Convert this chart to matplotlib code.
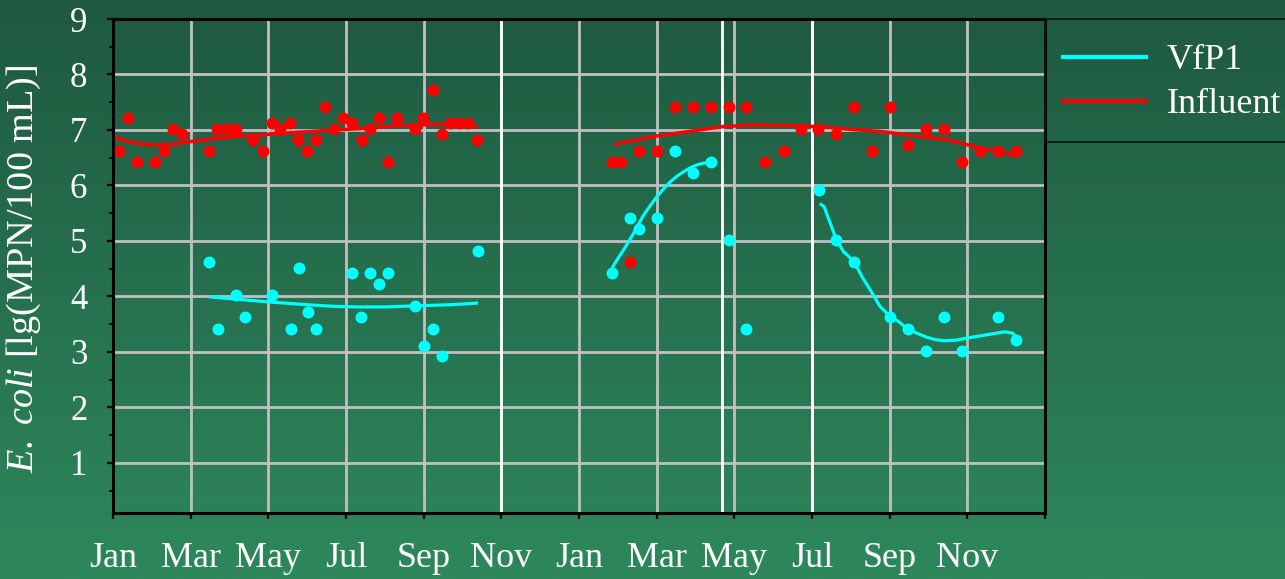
import numpy as np
import matplotlib
matplotlib.use("Agg")
import matplotlib.pyplot as plt
from matplotlib.lines import Line2D
from matplotlib.patches import Rectangle
from matplotlib.colors import to_rgb

plt.rcParams['font.family'] = ['Liberation Serif', 'DejaVu Serif']
plt.rcParams['mathtext.fontset'] = 'custom'
plt.rcParams['mathtext.rm'] = 'Liberation Serif'
plt.rcParams['mathtext.it'] = 'Liberation Serif:italic'

# Time axis in months: 0 = start of January (year 1), 12 = January (year 2)
month_ticks = list(range(0, 25, 2))
month_labels = ['Jan', 'Mar', 'May', 'Jul', 'Sep', 'Nov'] * 2 + ['']

# Influent E. coli, lg(MPN/100 mL)
influent_month = [0.16, 0.39, 0.61, 1.07, 1.31, 1.54, 1.77, 2.46, 2.69, 2.94, 3.16, 3.61,
                  3.87, 4.09, 4.30, 4.56, 4.77, 5.00, 5.23, 5.46, 5.70, 5.93, 6.16, 6.40,
                  6.62, 6.85, 7.09, 7.31, 7.78, 7.99, 8.24, 8.46, 8.68, 8.92, 9.15, 9.38,
                  12.85, 13.09, 13.32, 13.55, 14.01, 14.48, 14.93, 15.40, 15.86, 16.31,
                  16.78, 17.27, 17.71, 18.16, 18.63, 19.09, 19.54, 20.00, 20.47, 20.94,
                  21.40, 21.86, 22.32, 22.78, 23.25]
influent_lg = [6.62, 7.22, 6.42, 6.42, 6.62, 7.02, 6.92, 6.62, 7.02, 7.02, 7.02, 6.82,
               6.62, 7.12, 7.02, 7.12, 6.82, 6.62, 6.82, 7.42, 7.02, 7.22, 7.12, 6.82,
               7.02, 7.22, 6.42, 7.22, 7.02, 7.22, 7.72, 6.92, 7.12, 7.12, 7.12, 6.82,
               6.42, 6.42, 4.62, 6.62, 6.62, 7.42, 7.42, 7.42, 7.42, 7.42,
               6.42, 6.62, 7.02, 7.02, 6.92, 7.42, 6.62, 7.42, 6.72, 7.02,
               7.02, 6.42, 6.62, 6.62, 6.62]

# VfP1 effluent E. coli, lg(MPN/100 mL)
vfp1_month = [2.47, 2.70, 3.16, 3.39, 4.09, 4.59, 4.78, 5.01, 5.23, 6.16, 6.39, 6.62,
              6.86, 7.08, 7.78, 8.01, 8.24, 8.47, 9.40,
              12.85, 13.32, 13.55, 14.01, 14.48, 14.93, 15.40, 15.86, 16.31,
              18.18, 18.63, 19.09, 20.00, 20.48, 20.94, 21.40, 21.86, 22.78, 23.25]
vfp1_lg = [4.62, 3.41, 4.03, 3.62, 4.03, 3.41, 4.52, 3.71, 3.41, 4.42, 3.62, 4.42,
           4.22, 4.42, 3.82, 3.11, 3.41, 2.92, 4.82,
           4.42, 5.42, 5.22, 5.42, 6.62, 6.22, 6.42, 5.02, 3.41,
           5.92, 5.02, 4.62, 3.62, 3.41, 3.02, 3.62, 3.02, 3.62, 3.22]

# Smoothed trends
influent_trend1_month = [0.0, 0.5, 1.0, 1.5, 2.2, 3.1, 4.0, 4.8, 5.7, 6.5, 7.4, 8.3, 8.9, 9.4]
influent_trend1_lg = [6.87, 6.77, 6.73, 6.74, 6.81, 6.88, 6.92, 6.96, 7.00, 7.03, 7.08, 7.10, 7.09, 7.05]
influent_trend2_month = [12.9, 13.5, 14.0, 14.9, 15.7, 16.5, 17.4, 18.2, 19.0, 19.8, 20.6,
                         21.5, 22.3, 22.8, 23.25]
influent_trend2_lg = [6.74, 6.82, 6.89, 6.98, 7.06, 7.09, 7.08, 7.06, 7.01, 6.97, 6.90,
                      6.82, 6.68, 6.61, 6.53]

vfp1_trend1_month = [2.49, 3.0, 4.0, 5.0, 5.7, 6.3, 7.0, 7.8, 8.7, 9.4]
vfp1_trend1_lg = [3.99, 3.96, 3.90, 3.85, 3.82, 3.81, 3.81, 3.83, 3.85, 3.88]
vfp1_trend2_month = [12.85, 13.0, 13.15, 13.28, 13.41, 13.54, 13.67, 13.84, 14.01, 14.18,
                     14.36, 14.53, 14.70, 14.87, 15.04, 15.2, 15.39]
vfp1_trend2_lg = [4.51, 4.68, 4.84, 4.99, 5.14, 5.31, 5.47, 5.64, 5.80, 5.94,
                  6.07, 6.17, 6.25, 6.32, 6.37, 6.40, 6.42]
vfp1_trend3_month = [18.20, 18.31, 18.47, 18.63, 18.81, 19.08, 19.30, 19.55, 19.75, 20.01,
                     20.22, 20.47, 20.72, 20.97, 21.18, 21.40, 21.70, 22.00, 22.52, 22.95,
                     23.16, 23.29]
vfp1_trend3_lg = [5.67, 5.62, 5.32, 5.02, 4.81, 4.63, 4.34, 4.06, 3.82, 3.64,
                  3.55, 3.41, 3.33, 3.26, 3.22, 3.20, 3.21, 3.25, 3.31, 3.36,
                  3.34, 3.25]

# Operation phase changes
phase_marks = [10.0, 15.68, 18.0]

W, H = 1285, 579
fig = plt.figure(figsize=(W / 100, H / 100), dpi=100)

# Vertical background gradient
bg = fig.add_axes([0, 0, 1, 1])
top_c = np.array(to_rgb('#1e5940'))
bot_c = np.array(to_rgb('#2e885c'))
t = np.linspace(0, 1, 256)[:, None, None]
grad = top_c[None, None, :] * (1 - t) + bot_c[None, None, :] * t
bg.imshow(grad, aspect='auto', extent=[0, 1, 0, 1], origin='upper')
bg.set_axis_off()

left, right, top, bottom = 113, 1045, 19, 513.3
ax = fig.add_axes([left / W, 1 - bottom / H, (right - left) / W, (bottom - top) / H])
ax.set_facecolor('none')

ax.set_xlim(0, 24)
ax.set_ylim(0.09, 9)

ax.set_xticks(month_ticks)
ax.set_xticklabels(month_labels)
ax.set_yticks(range(1, 10))
ax.set_yticks(np.arange(0.5, 9, 1.0), minor=True)

ax.tick_params(axis='x', which='major', direction='out', length=4.5, width=1.6,
               colors='black', labelcolor='white', labelsize=26, pad=16.5)
ax.tick_params(axis='y', which='major', direction='out', length=4.5, width=1.6,
               colors='black', labelcolor='white', labelsize=25, pad=14)
ax.tick_params(axis='y', which='minor', direction='out', length=3, width=1.4, colors='black')

ax.grid(True, which='major', color='#c0c0c0', linewidth=2.0, zorder=1)
ax.set_axisbelow(True)
for s in ax.spines.values():
    s.set_color('black')
    s.set_linewidth(2.2)
    s.set_zorder(5)

for m in phase_marks:
    ax.axvline(m, color='white', linewidth=2.0, zorder=2)

cyan, red = '#00ffff', '#ff0000'
ax.plot(vfp1_trend1_month, vfp1_trend1_lg, color=cyan, lw=2.3, zorder=3, solid_capstyle='butt')
ax.plot(vfp1_trend2_month, vfp1_trend2_lg, color=cyan, lw=2.3, zorder=3, solid_capstyle='butt')
ax.plot(vfp1_trend3_month, vfp1_trend3_lg, color=cyan, lw=2.3, zorder=3, solid_capstyle='butt')
ax.plot(influent_trend1_month, influent_trend1_lg, color=red, lw=2.5, zorder=3, solid_capstyle='butt')
ax.plot(influent_trend2_month, influent_trend2_lg, color=red, lw=2.5, zorder=3, solid_capstyle='butt')

ax.scatter(vfp1_month, vfp1_lg, s=74, color=cyan, linewidths=0, zorder=4, clip_on=False)
ax.scatter(influent_month, influent_lg, s=74, color=red, linewidths=0, zorder=4, clip_on=False)

ax.set_ylabel(r'$\mathit{E.\ coli}$ [lg(MPN/100 mL)]', color='white', fontsize=27.5)
ax.yaxis.set_label_coords((43 - left) / (right - left), 0.494)

# Legend panel to the right of the plot
fig.patches.append(Rectangle((right / W, 1 - 141.5 / H), 1.0, (141.5 - 19) / H,
                             transform=fig.transFigure, facecolor='none',
                             edgecolor='#0b1a12', linewidth=1.3))
handles = [Line2D([], [], color=cyan, lw=3), Line2D([], [], color=red, lw=3)]
ax.legend(handles, ['VfP1', 'Influent'], loc='upper left',
          bbox_to_anchor=(1063 / W, 1 - 44 / H), bbox_transform=fig.transFigure,
          frameon=False, fontsize=26, labelcolor='white', handlelength=2.3,
          handletextpad=0.58, labelspacing=0.3, borderpad=0, borderaxespad=0)

fig.savefig('out.png', dpi=100)
